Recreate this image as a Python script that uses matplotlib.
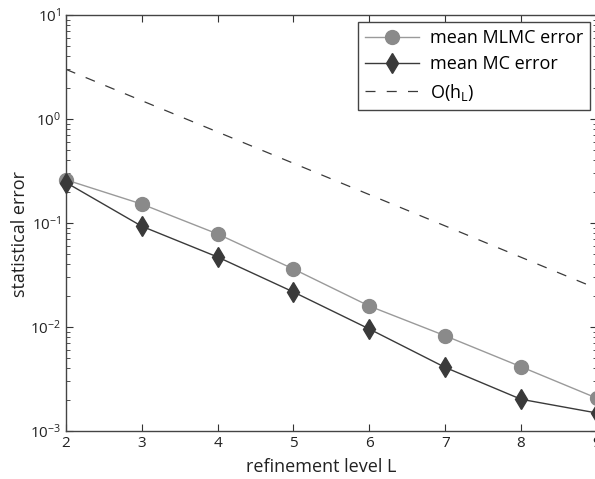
import numpy as np
import matplotlib
matplotlib.use("Agg")
import matplotlib.pyplot as plt

plt.rcParams['font.family'] = ['Open Sans', 'DejaVu Sans']
plt.rcParams['mathtext.fontset'] = 'custom'
plt.rcParams['mathtext.rm'] = 'Open Sans'

levels = [2, 3, 4, 5, 6, 7, 8, 9]
mlmc_err = [0.26, 0.152, 0.0784, 0.0361, 0.0159, 0.00824, 0.00415, 0.00207]
mc_err = [0.245, 0.093, 0.0471, 0.0217, 0.00957, 0.00409, 0.00202, 0.00149]
ref_err = [3.0, 1.5, 0.75, 0.375, 0.1875, 0.09375, 0.046875, 0.0234375]

fig = plt.figure(figsize=(5.95, 4.79), dpi=100)
ax = fig.add_axes([0.1109, 0.1002, 0.8921, 0.8685])

ax.semilogy(levels, mlmc_err, '-o', color='#9a9a9a', lw=1.0,
            markerfacecolor='#8a8a8a', markeredgecolor='#8a8a8a', markersize=10,
            label='mean MLMC error', clip_on=False, zorder=3)
ax.semilogy(levels, mc_err, '-d', color='#3a3a3a', lw=1.0,
            markerfacecolor='#3a3a3a', markeredgecolor='#3a3a3a', markersize=10.5,
            label='mean MC error', clip_on=False, zorder=4)
ax.semilogy(levels, ref_err, '--', color='#3a3a3a', lw=0.9, dashes=(8, 9),
            label=r'O(h$_{\mathregular{L}}$)')

ax.set_xlim(2, 9)
ax.set_ylim(1e-3, 1e1)
ax.set_xticks(levels)
ax.tick_params(which='both', direction='in', top=True, right=True,
               colors='#333333', labelcolor='#222222', labelsize=11)
ax.tick_params(which='major', length=5)
ax.tick_params(which='minor', length=3)
for s in ax.spines.values():
    s.set_color('#444444')
    s.set_linewidth(1.0)

ax.set_xlabel('refinement level L', fontsize=13, color='#222222', va='center')
ax.set_ylabel('statistical error', fontsize=13, color='#222222', va='center')
ax.xaxis.set_label_coords(0.481, -0.087)
ax.yaxis.set_label_coords(-0.087, 0.474)

leg = ax.legend(loc='upper right', bbox_to_anchor=(0.988, 0.983), fontsize=13,
                fancybox=False, framealpha=1, edgecolor='#444444',
                handlelength=3.0, handletextpad=0.6, borderpad=0.4,
                labelspacing=0.45, borderaxespad=0)
leg.get_frame().set_linewidth(1.0)

fig.savefig('out.png', dpi=100)
